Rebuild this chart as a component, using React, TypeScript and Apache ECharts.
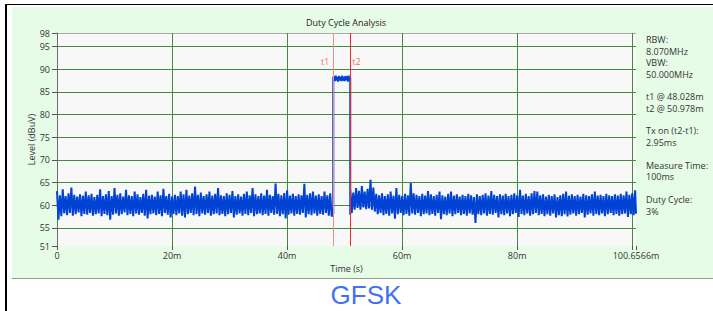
import React, { useEffect, useRef } from 'react';
import * as echarts from 'echarts';

// ---------- data ----------
const chartTitle = 'Duty Cycle Analysis';
const yAxisName = 'Level (dBuV)';
const xAxisName = 'Time (s)';
const timeMax = 100.6566; // ms
const levelMin = 51;
const levelMax = 98;
const sampleStep = 0.5; // ms between noise samples

const markerNames = ['t1', 't2'];
const markerTimes = [48.028, 50.978];

// noise envelope before t1 (t = 0 .. 47.5 ms, step 0.5)
const leftHigh = [
  63.1, 62.2, 63.5, 62.0, 62.6, 63.9, 62.3, 61.9, 62.4, 62.1,
  63.0, 62.2, 62.5, 61.8, 62.3, 63.5, 62.0, 62.4, 63.1, 62.0,
  63.8, 62.3, 62.6, 61.9, 63.4, 62.2, 62.0, 63.0, 62.4, 61.8,
  62.5, 63.4, 62.1, 62.3, 61.9, 63.0, 62.2, 63.6, 62.0, 62.5,
  61.9, 62.3, 62.0, 63.0, 62.4, 63.4, 62.1, 62.6, 64.1, 62.3,
  62.8, 62.0, 62.4, 63.0, 62.1, 62.5, 63.8, 62.2, 62.0, 62.6,
  62.3, 63.1, 62.0, 62.4, 61.9, 62.5, 63.0, 62.2, 63.8, 62.4,
  62.0, 62.6, 62.1, 63.4, 62.3, 62.0, 64.8, 62.5, 62.2, 62.7,
  63.3, 62.1, 62.5, 62.0, 62.4, 62.2, 64.7, 62.3, 62.6, 63.0,
  62.1, 62.4, 62.0, 63.0, 62.2, 62.6,
];
const leftLow = [
  56.8, 57.6, 58.2, 57.8, 58.3, 57.7, 58.0, 58.4, 57.6, 58.1,
  57.9, 58.3, 57.7, 58.0, 58.2, 57.6, 58.1, 57.8, 56.8, 57.9,
  58.2, 57.7, 58.0, 58.4, 57.8, 58.1, 57.6, 58.2, 57.9, 58.3,
  57.7, 57.1, 58.0, 58.2, 57.8, 58.1, 57.6, 58.3, 57.9, 57.3,
  58.1, 57.8, 58.2, 57.7, 57.3, 58.0, 58.3, 57.8, 58.1, 57.6,
  58.2, 57.9, 58.3, 57.7, 58.0, 58.2, 57.8, 58.1, 57.6, 58.0,
  58.3, 57.3, 57.9, 58.2, 57.7, 58.1, 57.8, 58.3, 57.6, 58.0,
  58.2, 57.8, 58.1, 57.7, 58.3, 57.9, 58.1, 57.6, 58.0, 57.1,
  57.9, 58.2, 57.7, 58.1, 57.9, 58.3, 57.3, 58.0, 57.8, 58.2,
  57.7, 58.1, 57.9, 58.3, 57.7, 57.5,
];

// burst between t1 and t2 (alternating peaks / troughs)
const riseLevels = [58.2, 88.3];
const burstLevels = [
  88.3, 87.4, 88.6, 87.5, 88.3, 87.3, 88.5, 87.6, 88.3, 87.4, 88.6, 87.5,
  88.3, 87.4, 88.5, 87.6, 88.4, 87.3, 88.6, 87.5,
];
const fallLevels = [88.2, 57.9];

// noise envelope after t2 (t = 51 .. 100.5 ms, step 0.5)
const rightStart = 51.0;
const rightHigh = [
  63.4, 62.8, 63.8, 63.2, 64.2, 63.0, 63.6, 65.6, 63.9, 62.5,
  62.2, 62.6, 62.0, 62.4, 63.0, 62.1, 63.8, 62.3, 62.0, 62.5,
  62.2, 64.9, 62.6, 62.3, 62.0, 62.5, 62.1, 63.1, 62.4, 62.0,
  62.3, 63.0, 62.2, 61.9, 62.5, 63.0, 62.1, 62.4, 61.9, 62.3,
  62.0, 62.5, 62.2, 61.8, 62.4, 62.0, 62.3, 62.6, 62.1, 63.1,
  62.3, 62.0, 62.4, 62.1, 62.5, 62.0, 62.3, 62.6, 62.2, 63.4,
  62.1, 62.5, 62.0, 62.6, 63.1, 63.0, 62.2, 62.4, 61.9, 62.3,
  62.0, 62.4, 61.8, 62.2, 62.5, 63.0, 62.1, 62.4, 62.0, 62.3,
  61.9, 62.5, 62.2, 62.0, 62.4, 63.0, 62.1, 62.3, 62.0, 62.5,
  62.2, 62.0, 62.4, 62.1, 62.5, 62.2, 63.0, 62.3, 62.6, 63.3,
];
const rightLow = [
  58.3, 59.0, 59.4, 59.0, 59.5, 59.1, 59.3, 59.0, 58.6, 58.0,
  58.3, 57.8, 58.1, 57.7, 58.2, 57.0, 58.0, 58.3, 57.8, 58.1,
  57.7, 58.2, 57.9, 58.3, 57.6, 58.0, 58.2, 57.8, 58.1, 57.7,
  58.3, 56.9, 58.0, 57.8, 58.2, 57.6, 58.0, 58.3, 57.8, 58.1,
  57.7, 58.2, 57.9, 56.1, 58.0, 57.8, 58.2, 57.7, 58.1, 57.9,
  58.3, 57.3, 58.0, 57.8, 58.2, 57.6, 58.0, 58.3, 57.4, 58.1,
  57.8, 58.2, 57.7, 58.0, 58.3, 57.8, 58.1, 57.6, 58.0, 57.7,
  58.2, 57.3, 57.8, 57.6, 58.0, 57.5, 57.9, 58.2, 57.7, 58.0,
  58.3, 57.3, 57.9, 58.2, 57.7, 58.1, 57.8, 58.2, 57.6, 58.0,
  58.3, 57.8, 58.1, 57.7, 58.0, 58.2, 57.4, 58.0, 57.8, 58.1,
];

const infoTexts = [
  'RBW:', '8.070MHz', 'VBW:', '50.000MHz',
  't1 @ 48.028m', 't2 @ 50.978m',
  'Tx on (t2-t1):', '2.95ms',
  'Measure Time:', '100ms',
  'Duty Cycle:', '3%',
];
const modulationLabel = 'GFSK';

// ---------- layout / style ----------
const FONT = '"Open Sans", "Noto Sans", sans-serif';
const W = 713;
const H = 311;
const infoX = 646;
const infoY = [39.5, 51, 62.5, 74, 96.7, 108.3, 130.5, 142.5, 165, 176.5, 199.5, 211];
const markerLabelLevel = 91.7;
const GRID_GREEN = '#3f8c3f';
const TRACE_BLUE = '#0042d4';
const CLEAR = 'rgba(0,0,0,0)';

function buildTrace(): [number, number][] {
  const pts: [number, number][] = [];
  leftHigh.forEach((h, i) => {
    const t = i * sampleStep;
    pts.push([t, h], [t + sampleStep / 2, leftLow[i]]);
  });
  pts.push([markerTimes[0], riseLevels[0]], [markerTimes[0], riseLevels[1]]);
  const span = markerTimes[1] - markerTimes[0];
  burstLevels.forEach((v, k) => {
    pts.push([markerTimes[0] + ((k + 1) * span) / (burstLevels.length + 1), v]);
  });
  pts.push([markerTimes[1], fallLevels[0]], [markerTimes[1], fallLevels[1]]);
  rightHigh.forEach((h, i) => {
    const t = rightStart + i * sampleStep;
    pts.push([Math.min(t, timeMax), h], [Math.min(t + sampleStep / 2, timeMax), rightLow[i]]);
  });
  return pts;
}

export default function App() {
  const ref = useRef<HTMLDivElement>(null);

  useEffect(() => {
    if (!ref.current) return;
    const chart = echarts.init(ref.current, null, { renderer: 'svg', width: W, height: H });
    const trace = buildTrace();

    const graphics: any[] = [
      {
        type: 'text',
        x: 346,
        y: 22,
        style: { text: chartTitle, fontSize: 9, fontFamily: FONT, fill: '#222', align: 'center', verticalAlign: 'middle' },
      },
      ...infoTexts.map((t, i) => ({
        type: 'text',
        x: infoX,
        y: infoY[i],
        style: {
          text: t,
          fontSize: 9,
          lineHeight: 10,
          fontFamily: FONT,
          fill: '#333',
          align: 'left',
          verticalAlign: 'middle',
        },
      })),
      {
        type: 'text',
        x: 366,
        y: 295,
        style: {
          text: modulationLabel,
          fontSize: 26,
          fontFamily: '"Liberation Sans", Arial, sans-serif',
          fill: '#4371ee',
          align: 'center',
          verticalAlign: 'middle',
        },
      },
    ];

    chart.setOption({
      animation: false,
      grid: {
        left: 57,
        top: 33,
        width: 579,
        height: 213,
        show: true,
        backgroundColor: '#f8f8f8',
        borderWidth: 0,
        containLabel: false,
      },
      xAxis: {
        type: 'value',
        min: 0,
        max: timeMax,
        interval: 20,
        name: xAxisName,
        nameLocation: 'middle',
        nameGap: 18,
        nameMoveOverlap: false,
        nameTextStyle: { fontSize: 9, fontFamily: FONT, color: '#333' },
        axisLine: { show: false },
        axisTick: { show: true, length: 4, lineStyle: { color: '#555' } },
        axisLabel: {
          fontSize: 9,
          fontFamily: FONT,
          color: '#333',
          margin: 5,
          showMinLabel: true,
          showMaxLabel: true,
          formatter: (v: number) => {
            if (v === 0) return '0';
            if (Math.abs(v - timeMax) < 1e-6) return timeMax + 'm';
            if (v === 100) return '';
            return v + 'm';
          },
        },
        splitLine: {
          show: true,
          lineStyle: { width: 1, color: [CLEAR, GRID_GREEN, GRID_GREEN, GRID_GREEN, GRID_GREEN, GRID_GREEN, CLEAR] },
        },
      },
      yAxis: {
        type: 'value',
        min: levelMin,
        max: levelMax,
        splitNumber: 9,
        name: yAxisName,
        nameLocation: 'middle',
        nameGap: 21,
        nameMoveOverlap: false,
        nameRotate: 90,
        nameTextStyle: { fontSize: 9, fontFamily: FONT, color: '#333' },
        axisLine: { show: true, lineStyle: { color: '#6a6a6a', width: 1 } },
        axisTick: { show: true, length: 5, lineStyle: { color: '#555' } },
        axisLabel: { fontSize: 9, fontFamily: FONT, color: '#333', margin: 7, showMinLabel: true, showMaxLabel: true },
        splitLine: {
          show: true,
          lineStyle: {
            width: 1,
            color: [CLEAR, GRID_GREEN, GRID_GREEN, GRID_GREEN, GRID_GREEN, GRID_GREEN, GRID_GREEN, GRID_GREEN, GRID_GREEN, GRID_GREEN, '#a9a9a9'],
          },
        },
      },
      series: [
        {
          type: 'line',
          data: trace,
          showSymbol: false,
          symbol: 'none',
          clip: true,
          lineStyle: { color: TRACE_BLUE, width: 2 },
          z: 2,
          markLine: {
            silent: true,
            symbol: ['none', 'none'],
            label: { show: false },
            data: [
              { xAxis: markerTimes[0], lineStyle: { color: '#f38a8a', width: 1, type: 'solid' } },
              { xAxis: markerTimes[1], lineStyle: { color: '#ee2a2a', width: 1, type: 'solid' } },
            ],
          },
        },
        {
          type: 'scatter',
          symbolSize: 0,
          silent: true,
          z: 3,
          data: markerNames.map((n, i) => ({
            name: n,
            value: [markerTimes[i], markerLabelLevel],
            label: { position: i === 0 ? 'left' : 'right', distance: i === 0 ? 4 : 2 },
          })),
          label: {
            show: true,
            formatter: (p: any) => p.name,
            fontSize: 9,
            fontFamily: FONT,
            color: '#f04848',
          },
        },
      ],
      graphic: graphics,
    });

    return () => chart.dispose();
  }, []);

  return (
    <div style={{ position: 'fixed', left: 0, top: 0, width: W, height: H, background: '#ffffff', overflow: 'hidden' }}>
      <div style={{ position: 'absolute', left: 5, top: 4, width: 708, height: 1, background: '#000' }} />
      <div style={{ position: 'absolute', left: 5, top: 4, width: 2, height: 307, background: '#000' }} />
      <div style={{ position: 'absolute', left: 12, top: 7, width: 701, height: 271, background: '#e6fce6' }} />
      <div style={{ position: 'absolute', left: 12, top: 278, width: 701, height: 1, background: '#8e9e8e' }} />
      <div ref={ref} style={{ position: 'absolute', left: 0, top: 0, width: W, height: H }} />
    </div>
  );
}
